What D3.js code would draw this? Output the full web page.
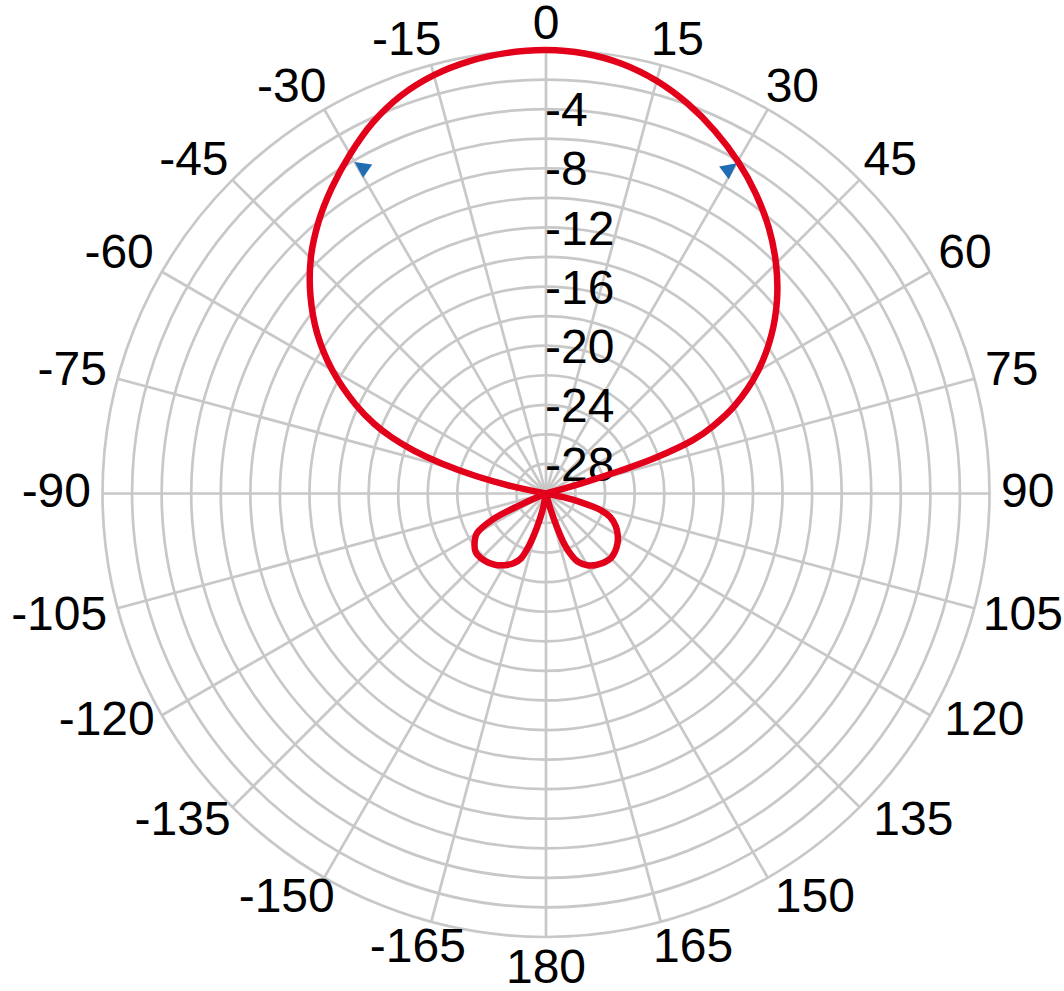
<!DOCTYPE html>
<html>
<head>
<meta charset="utf-8">
<script src="https://cdn.jsdelivr.net/npm/d3@7"></script>
<style>
  html, body { margin: 0; padding: 0; background: #ffffff; }
  svg { display: block; }
  text { font-family: "Liberation Sans", Arial, Helvetica, sans-serif; fill: #000; }
</style>
</head>
<body>
<svg id="chart" width="1064" height="991"></svg>
<script>
// ---- data ----
const patternAngles = [-180, -170, -168, -165, -162, -159, -155, -150, -145, -140, -135, -130, -125, -120, -116, -114, -112,
  -80, -78, -76, -74, -72, -70, -68, -65, -60, -55, -50, -45, -40, -35, -30, -25, -20, -15, -10, -5,
  0, 5, 10, 15, 20, 25, 30, 35, 40, 45, 50, 55, 60, 65, 68, 70, 72, 73, 74, 75,
  100, 102, 104, 107, 110, 115, 120, 125, 130, 135, 140, 145, 150, 155, 158, 160, 162, 164, 166];
const patternGains = [-30, -30, -28.8, -27.6, -26.3, -25.3, -24.8, -24.4, -24.1, -23.9, -23.8, -23.8, -24.1, -24.6, -26.0, -28.2, -30,
  -30, -27.6, -25.1, -22.7, -20.6, -18.9, -17.5, -15.8, -13.3, -11.1, -9.2, -7.5, -6.05, -4.75, -3.5, -2.3, -1.35, -0.7, -0.3, -0.08,
  0, -0.12, -0.48, -1.1, -1.95, -2.95, -4.05, -5.25, -6.55, -8.0, -9.6, -11.4, -13.45, -15.9, -17.8, -19.4, -22.3, -24.8, -27.5, -30,
  -30, -28.8, -27.6, -26.1, -25.4, -24.8, -24.4, -24.1, -23.9, -23.8, -23.9, -24.1, -24.4, -24.9, -25.6, -26.3, -27.6, -29.0, -30];
const markerAngles = [-30, 30];
const markerGains = [-4.1, -4.2];
const ringValues = [-28, -26, -24, -22, -20, -18, -16, -14, -12, -10, -8, -6, -4, -2, 0];
const radialLabelValues = [-4, -8, -12, -16, -20, -24, -28];
const angleTicks = [-165, -150, -135, -120, -105, -90, -75, -60, -45, -30, -15, 0, 15, 30, 45, 60, 75, 90, 105, 120, 135, 150, 165, 180];
const gainDomain = [-30, 0];

// ---- layout ----
const cx = 546, cy = 493.5, R = 443.5;
const fontSize = 48;
const gridColor = "#c8c8c8";
const curveColor = "#e2001a";
const markerColor = "#1f6db3";

const svg = d3.select("#chart");
svg.append("rect").attr("width", 1064).attr("height", 991).attr("fill", "#fff");
const g = svg.append("g").attr("transform", `translate(${cx},${cy})`);

const r = d3.scaleLinear().domain(gainDomain).range([0, R]).clamp(true);
const rad = d => d * Math.PI / 180;

// rings
g.append("g").selectAll("circle").data(ringValues).join("circle")
  .attr("r", d => r(d)).attr("fill", "none")
  .attr("stroke", gridColor).attr("stroke-width", 2.7);

// spokes
const spokeAngles = d3.range(0, 360, 15);
g.append("g").selectAll("line").data(spokeAngles).join("line")
  .attr("x1", 0).attr("y1", 0)
  .attr("x2", d => R * Math.sin(rad(d)))
  .attr("y2", d => -R * Math.cos(rad(d)))
  .attr("stroke", gridColor).attr("stroke-width", 2.7);

// radial labels
g.append("g").selectAll("text").data(radialLabelValues).join("text")
  .attr("x", -1)
  .attr("y", d => -r(d) + 0.358 * fontSize)
  .attr("font-size", fontSize)
  .attr("text-anchor", "start")
  .text(d => String(d));

// angle labels (placement nudges are layout, by |angle|)
const upNudge = d3.scaleLinear()
  .domain([0, 15, 30, 45, 60, 75, 90, 105, 120, 135, 150, 165, 180])
  .range([0, 0, 0, 2, 7, 3.5, 4, 3.2, 12, 10, 8, 4.3, 0]);
const rightNudge = d3.scaleLinear()
  .domain([90, 105, 120, 135, 150, 165, 180])
  .range([0, -2, 7, 12, 13, 9, 0]);
const measure = svg.append("text").attr("font-size", fontSize).attr("opacity", 0);
const labelR = 455;
const textH = 0.716 * fontSize;
const angG = g.append("g");
angleTicks.forEach(a => {
  const s = Math.sin(rad(a)), c = Math.cos(rad(a));
  const absA = Math.abs(a);
  const unsigned = String(absA);
  measure.text(unsigned);
  const w = measure.node().getComputedTextLength();
  const px = labelR * s, py = -labelR * c;
  const sgn = Math.abs(s) < 1e-6 ? 0 : Math.sign(s);
  let ctrX = px + sgn * (w / 2) * Math.sqrt(Math.abs(s));
  let ctrY = py - (textH / 2) * c - upNudge(absA);
  if (a > 90 && a < 180) ctrX += rightNudge(a);
  if (a < -135) ctrX += 18 * Math.pow((absA - 135) / 30, 2);
  const t = angG.append("text").attr("font-size", fontSize)
    .attr("y", ctrY + textH / 2);
  if (a < 0) {
    t.attr("x", ctrX + w / 2).attr("text-anchor", "end");
  } else {
    t.attr("x", ctrX).attr("text-anchor", "middle");
  }
  t.text(String(a));
});
measure.remove();

// pattern curve
const pts = patternAngles.map((a, i) => ({ a, g: patternGains[i] }));
const line = d3.lineRadial()
  .angle(d => rad(d.a))
  .radius(d => r(d.g))
  .curve(d3.curveCatmullRomClosed.alpha(0.5));
g.append("path").attr("d", line(pts))
  .attr("fill", "none").attr("stroke", curveColor)
  .attr("stroke-width", 6.5).attr("stroke-linejoin", "round");

// markers (triangles pointing to the curve)
const markers = markerAngles.map((a, i) => ({ a, g: markerGains[i] }));
g.append("g").selectAll("path").data(markers).join("path")
  .attr("d", "M0,0 L-8,16 L8,16 Z")
  .attr("fill", markerColor)
  .attr("transform", d => {
    const x = r(d.g) * Math.sin(rad(d.a)), y = -r(d.g) * Math.cos(rad(d.a));
    const rot = d.a > 0 ? 53 : -55;
    return `translate(${x},${y}) rotate(${rot})`;
  });
</script>
</body>
</html>
